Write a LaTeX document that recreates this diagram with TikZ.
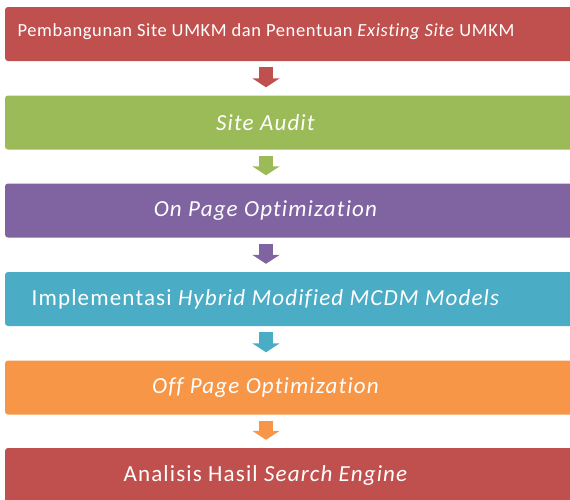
\documentclass[tikz,border=0pt]{standalone}
\usepackage{fontspec}
\setmainfont{Carlito}[Ligatures=NoCommon]
\usetikzlibrary{arrows.meta}
\definecolor{stagered}{HTML}{C0504D}
\definecolor{stagegreen}{HTML}{9BBB59}
\definecolor{stagepurple}{HTML}{8064A2}
\definecolor{stageteal}{HTML}{4BACC6}
\definecolor{stageorange}{HTML}{F79646}
\tikzset{
  stage/.style={fill=#1, rounded corners=3pt, minimum width=575pt, minimum height=54pt, inner sep=0pt},
  stagetext/.style={text=white, font=\fontsize{23}{27}\selectfont\addfontfeatures{LetterSpace=5}, xshift=-26.5pt, label distance=0pt},
  flow/.style={draw=#1, line width=14pt, -{Triangle[width=27pt,length=9pt]}, shorten <=6pt, shorten >=8pt}
}
\begin{document}
\begin{tikzpicture}[x=1pt,y=-1pt]
\useasboundingbox (0,0) rectangle (570,499);
\clip (0,0) rectangle (570,499);
% stages
\node[stage=stagered, label={[stagetext, font=\fontsize{18.5}{22}\selectfont\addfontfeatures{LetterSpace=3.5}, yshift=2pt]center:Pembangunan Site UMKM dan Penentuan \textit{Existing Site} UMKM}] (build) at (292.5,34) {};
\node[stage=stagegreen, label={[stagetext]center:\textit{Site Audit}}] (audit) at (292.5,122.5) {};
\node[stage=stagepurple, label={[stagetext]center:\textit{On Page Optimization}}] (onpage) at (292.5,210.5) {};
\node[stage=stageteal, label={[stagetext]center:Implementasi \textit{Hybrid Modified MCDM Models}}] (hybrid) at (292.5,299) {};
\node[stage=stageorange, label={[stagetext]center:\textit{Off Page Optimization}}] (offpage) at (292.5,387.5) {};
\node[stage=stagered, label={[stagetext]center:Analisis Hasil \textit{Search Engine}}] (result) at (292.5,475) {};
% arrows
\draw[flow=stagered] ([xshift=-26.5pt]build.south) -- ([xshift=-26.5pt]audit.north);
\draw[flow=stagegreen] ([xshift=-26.5pt]audit.south) -- ([xshift=-26.5pt]onpage.north);
\draw[flow=stagepurple] ([xshift=-26.5pt]onpage.south) -- ([xshift=-26.5pt]hybrid.north);
\draw[flow=stageteal] ([xshift=-26.5pt]hybrid.south) -- ([xshift=-26.5pt]offpage.north);
\draw[flow=stageorange] ([xshift=-26.5pt]offpage.south) -- ([xshift=-26.5pt]result.north);
\end{tikzpicture}
\end{document}
